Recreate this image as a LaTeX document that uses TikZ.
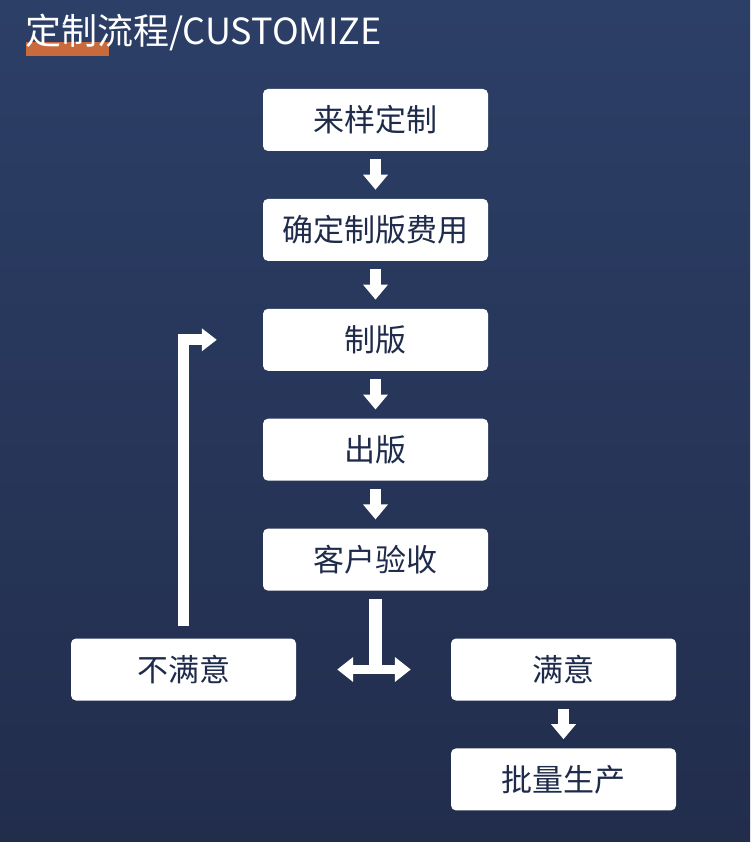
\documentclass[tikz,border=0pt]{standalone}
\usepackage{fontspec}
\setmainfont{Noto Sans CJK SC}
\usetikzlibrary{arrows.meta,positioning}
\definecolor{NavyTop}{HTML}{2C3F67}
\definecolor{NavyBot}{HTML}{222D4C}
\definecolor{Ink}{HTML}{1F2B4B}
\definecolor{Rust}{HTML}{C86A3C}

\begin{document}
\begin{tikzpicture}[x=1pt, y=1pt, node distance=47.5pt,
  every node/.style={font=\fontsize{31}{36}\selectfont},
  box/.style={rectangle, rounded corners=5pt, fill=white, text=Ink, minimum width=225pt, minimum height=62pt, inner sep=0pt},
  flow/.style={white, line width=11pt, -{Triangle[length=15pt,width=24pt]}, shorten <=8pt, shorten >=9pt}]
  \shade[top color=NavyTop, bottom color=NavyBot] (0,0) rectangle (750,-842);
  \useasboundingbox (0,0) rectangle (750,-842);
  % title
  \fill[Rust] (26,-42) rectangle (109,-56);
  \node[anchor=west, text=white, font=\fontsize{36}{42}\selectfont, inner sep=0pt] (title) at (25,-32) {定制流程/CUSTOMIZE};
  % steps
  \node[box] (ly) at (375.5,-120) {来样定制};
  \node[box, below=of ly] (qd) {确定制版费用};
  \node[box, below=of qd] (zb) {制版};
  \node[box, below=of zb] (cb) {出版};
  \node[box, below=of cb] (ys) {客户验收};
  \node[box, below=of ys, xshift=-192pt] (bmy) {不满意};
  \node[box, below=of ys, xshift=188pt] (my) {满意};
  \node[box, below=of my] (pl) {批量生产};
  \foreach \a/\b in {ly/qd, qd/zb, zb/cb, cb/ys, my/pl}
    \draw[flow] (\a) -- (\b);
  % back to zb
  \coordinate (back) at ([xshift=-46pt]zb.west);
  \draw[white, line width=11pt, line join=miter, -{Triangle[length=15pt,width=22pt]}] ([yshift=12pt]bmy.north) |- (back);
  % split
  \draw[white, line width=13pt] ([yshift=-8pt]ys.south) -- (ys.south |- my.west);
  \draw[white, line width=9pt, {Triangle[length=16pt,width=24pt]}-{Triangle[length=16pt,width=24pt]}, shorten <=41pt, shorten >=40pt] (bmy.east) -- (my.west);
\end{tikzpicture}
\end{document}
